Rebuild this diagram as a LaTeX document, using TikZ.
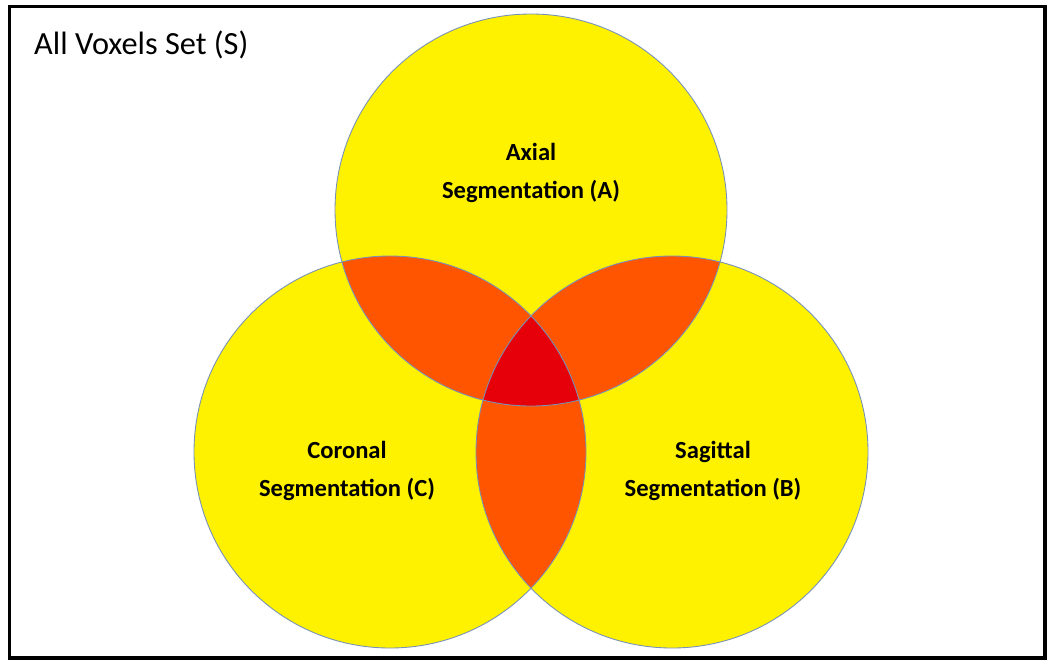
\documentclass[tikz,border=0pt]{standalone}
\usepackage{fontspec}
\setmainfont{Carlito}

\definecolor{amarillo}{RGB}{255,242,0}
\definecolor{naranja}{RGB}{255,85,0}
\definecolor{rojo}{RGB}{230,0,10}
\definecolor{borde}{RGB}{120,145,185}

\begin{document}
\begin{tikzpicture}[x=0.02cm, y=0.02cm,
    contorno/.style={borde, line width=0.5pt},
    etiqueta/.style={align=center, font=\fontsize{14}{21.6}\selectfont\bfseries}]
    \useasboundingbox (0,0) rectangle (1047,-660);

    % Marco
    \draw[black, line width=2pt] (9.5,-6.5) rectangle (1045,-658);
    \node[anchor=west, font=\fontsize{18.4}{22}\selectfont] (titulo) at (28,-45) {All Voxels Set (S)};

    % Circunferencias
    \fill[amarillo] (531,-210) circle (196);
    \fill[amarillo] (390,-452) circle (196);
    \fill[amarillo] (672,-452) circle (196);

    % Intersecciones dobles
    \begin{scope}
        \clip (531,-210) circle (196);
        \fill[naranja] (390,-452) circle (196);
        \fill[naranja] (672,-452) circle (196);
    \end{scope}
    \begin{scope}
        \clip (390,-452) circle (196);
        \fill[naranja] (672,-452) circle (196);
    \end{scope}

    % Interseccion triple
    \begin{scope}
        \clip (531,-210) circle (196);
        \clip (390,-452) circle (196);
        \fill[rojo] (672,-452) circle (196);
    \end{scope}

    % Bordes
    \draw[contorno] (531,-210) circle (196);
    \draw[contorno] (390,-452) circle (196);
    \draw[contorno] (672,-452) circle (196);

    % Etiquetas
    \node[etiqueta] (axial) at (531,-173) {Axial\\Segmentation (A)};
    \node[etiqueta] (coronal) at (347,-471) {Coronal\\Segmentation (C)};
    \node[etiqueta] (sagital) at (713,-471) {Sagittal\\Segmentation (B)};
\end{tikzpicture}
\end{document}
